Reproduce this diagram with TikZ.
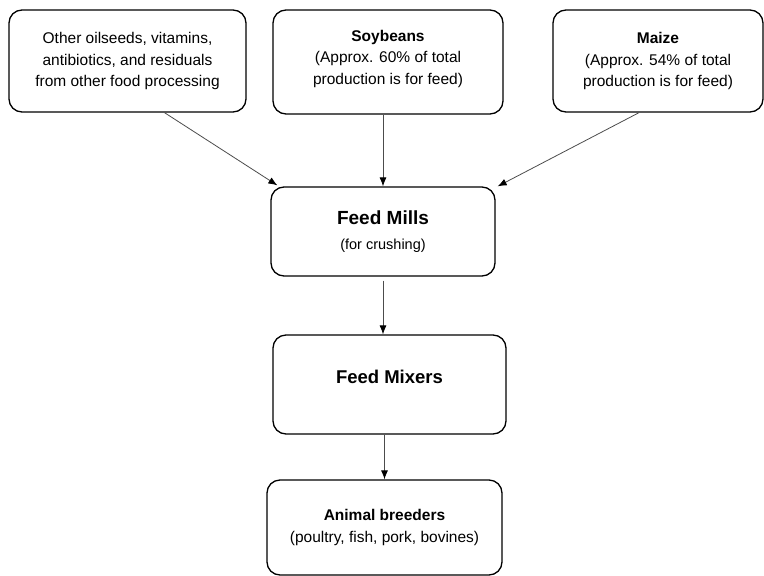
\documentclass[tikz,border=0pt]{standalone}
\usepackage{fontspec}
\setmainfont{Liberation Sans}
\usepackage{tikz}
\usetikzlibrary{positioning, arrows.meta}

\begin{document}
\begin{tikzpicture}[x=1pt, y=-1pt,
            box/.style={draw=black, line width=1.3pt, rounded corners=13pt, inner sep=0pt, align=center, font=\fontsize{15.5}{21.5}\selectfont},
            feed/.style={draw=black!70, line width=0.8pt, -{Latex[length=9pt, width=7pt, color=black]}}]
            \useasboundingbox (0, 0) rectangle (764, 576);

            \node[box, minimum width=237pt, minimum height=102pt] (other) at (127.5, 61) {Other oilseeds, vitamins,\\antibiotics, and residuals\\from other food processing};
            \node[box, minimum width=230pt, minimum height=104pt, text depth=10pt] (soy) at (388, 62) {\textbf{Soybeans}\\(Approx. 60\% of total\\production is for feed)};
            \node[box, minimum width=210pt, minimum height=102pt] (maize) at (658, 61) {\textbf{Maize}\\(Approx. 54\% of total\\production is for feed)};
            \node[box, minimum width=224pt, minimum height=89pt] (mills) at (383, 231.5) {{\fontsize{19}{22}\selectfont\bfseries Feed Mills}\\[3pt]{\fontsize{14.5}{21}\selectfont (for crushing)}};
            \node[box, minimum width=233pt, minimum height=99pt, text depth=16pt] (mixers) at (389.5, 384.5) {\fontsize{18.5}{22}\selectfont\bfseries Feed Mixers};
            \node[box, minimum width=235pt, minimum height=95pt] (breeders) at (384.5, 527.5) {\textbf{Animal breeders}\\(poultry, fish, pork, bovines)};

            \draw[feed] ([xshift=37pt]other.south) -- ([xshift=7pt, yshift=1pt]mills.north west);
            \draw[feed] (soy.south -| mills.north) -- (mills.north);
            \draw[feed] ([xshift=-19pt]maize.south) -- ([xshift=2pt]mills.north east);
            \draw[feed, shorten <=4pt] (mills.south) -- (mills.south |- mixers.north);
            \draw[feed] (breeders.north |- mixers.south) -- (breeders.north);
        \end{tikzpicture}
\end{document}
